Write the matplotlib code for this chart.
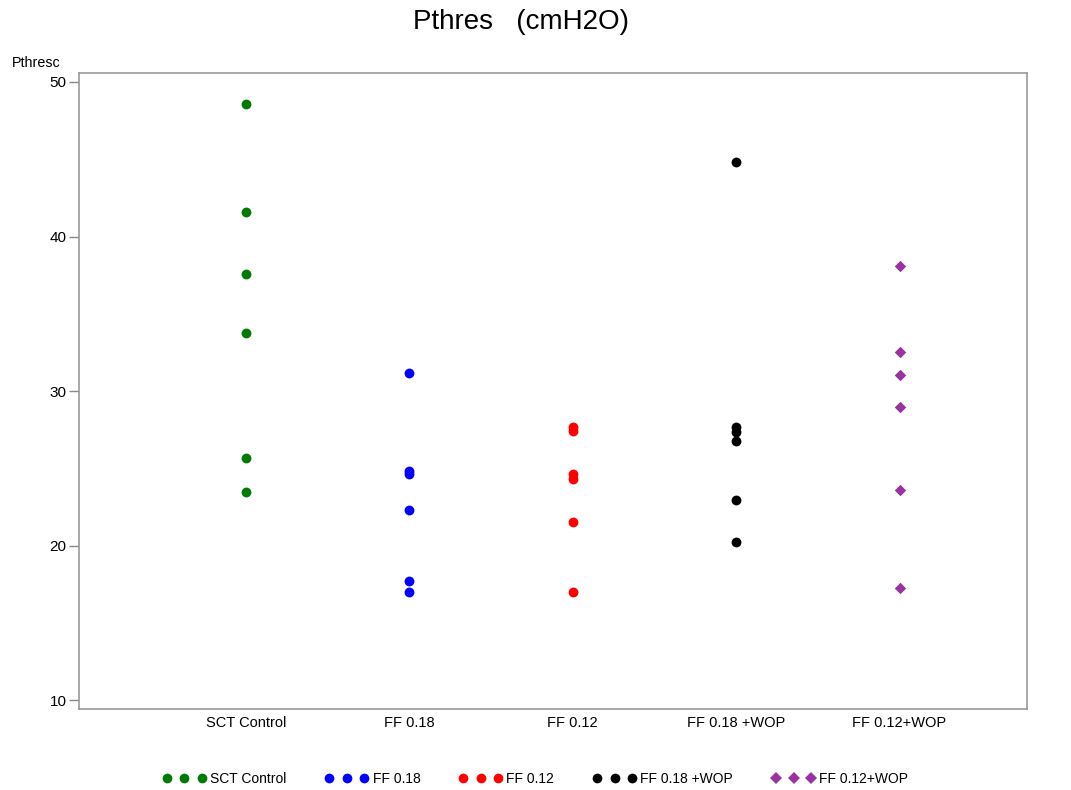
import matplotlib
matplotlib.use("Agg")
import matplotlib.pyplot as plt
from matplotlib.lines import Line2D

categories = ["SCT Control", "FF 0.18", "FF 0.12", "FF 0.18 +WOP", "FF 0.12+WOP"]
sct_control = [48.55, 41.6, 37.55, 33.74, 25.69, 23.49]
ff_018 = [31.15, 24.83, 24.64, 22.31, 17.74, 17.02]
ff_012 = [27.68, 27.42, 24.62, 24.29, 21.51, 17.02]
ff_018_wop = [44.82, 27.7, 27.37, 26.79, 22.96, 20.26]
ff_012_wop = [38.09, 32.51, 31.04, 28.96, 23.6, 17.26]
series = [sct_control, ff_018, ff_012, ff_018_wop, ff_012_wop]
colors = ["#007A00", "#0000FF", "#FF0000", "#000000", "#9933A0"]
markers = ["o", "o", "o", "o", "D"]
yticks = [10, 20, 30, 40, 50]

sans = ["Liberation Sans", "DejaVu Sans"]
narrow = ["Liberation Sans Narrow", "Liberation Sans", "DejaVu Sans"]

fig = plt.figure(figsize=(10.71, 7.9), dpi=100)
ax = fig.add_axes([79/1071, 1-709/790, (1027-79)/1071, (709-73)/790])

for i, (vals, c, m) in enumerate(zip(series, colors, markers)):
    ax.scatter([i]*len(vals), vals, color=c, marker=m,
               s=50 if m == "o" else 34, linewidths=0, zorder=3)

ax.set_xlim(-1.02, 4.78)
ax.set_ylim(9.44, 50.58)
ax.set_yticks(yticks)
ax.set_yticklabels([str(t) for t in yticks], fontfamily=sans, fontsize=11)
ax.set_xticks(range(len(categories)))
ax.set_xticklabels(categories, fontfamily=narrow, fontsize=10.5)
ax.tick_params(axis="x", length=0, pad=5)
ax.tick_params(axis="y", length=7, width=1, color="#888888", pad=2)
for sp in ax.spines.values():
    sp.set_color("#999999")
    sp.set_linewidth(1.2)

fig.text(521/1071, 1-22/790, "Pthres   (cmH2O)", ha="center", va="center",
         fontfamily=sans, fontsize=20)
fig.text(12/1071, 1-63/790, "Pthresc", ha="left", va="center",
         fontfamily=sans, fontsize=10.3)

handles = [Line2D([0], [0], linestyle="none", marker=m, color=c,
                  markersize=7 if m == "o" else 6, markeredgewidth=0)
           for c, m in zip(colors, markers)]
fig.legend(handles, categories, loc="center", bbox_to_anchor=(0.50, 1-779/790),
           ncol=5, frameon=False, numpoints=3, handlelength=3.1,
           handletextpad=0.3, columnspacing=2.8,
           prop={"family": narrow, "size": 10})

fig.savefig("out.png", dpi=100)
